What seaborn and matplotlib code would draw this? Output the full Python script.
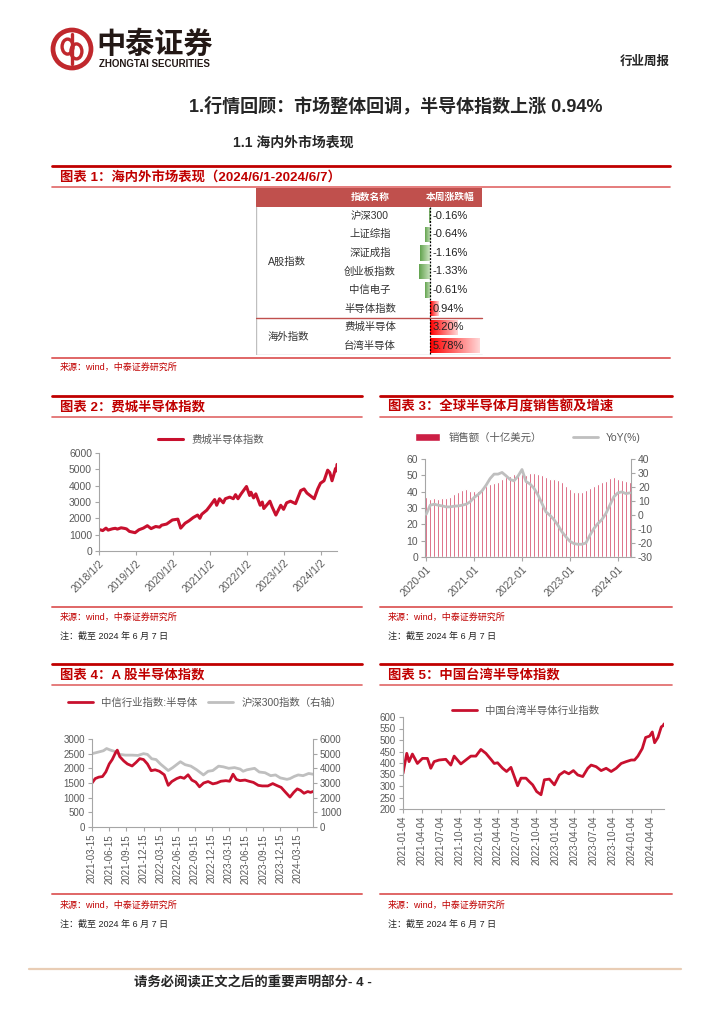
import numpy as np
import pandas as pd
import matplotlib
matplotlib.use('Agg')
import matplotlib.pyplot as plt
from matplotlib.lines import Line2D
from matplotlib.patches import Circle, Ellipse, Rectangle
import matplotlib.colors as mcolors
import seaborn as sns

# ---------------- data ----------------
# table 1: weekly change
table_names = ['沪深300', '上证综指', '深证成指', '创业板指数', '中信电子', '半导体指数', '费城半导体', '台湾半导体']
table_changes = [-0.16, -0.64, -1.16, -1.33, -0.61, 0.94, 3.20, 5.78]
table_groups = ['A股指数', 'A股指数', 'A股指数', 'A股指数', 'A股指数', 'A股指数', '海外指数', '海外指数']

# chart 2: Philadelphia semiconductor index
sox_dates = ['2018-01-02', '2018-02-08', '2018-03-12', '2018-04-02', '2018-05-15', '2018-06-12',
             '2018-07-02', '2018-08-08', '2018-09-14', '2018-10-01', '2018-10-29', '2018-12-24',
             '2019-01-31', '2019-03-15', '2019-04-24', '2019-05-31', '2019-07-15', '2019-08-23',
             '2019-09-12', '2019-10-31', '2019-12-27',
             '2020-02-19', '2020-03-18', '2020-04-30', '2020-06-08', '2020-07-20', '2020-09-01',
             '2020-09-23', '2020-10-12', '2020-11-30', '2020-12-31',
             '2021-02-16', '2021-03-08', '2021-04-05', '2021-05-12', '2021-06-01', '2021-07-15',
             '2021-08-19', '2021-09-10', '2021-10-04', '2021-11-04', '2021-12-27',
             '2022-01-27', '2022-02-09', '2022-03-07', '2022-03-29', '2022-05-11', '2022-06-01',
             '2022-06-16', '2022-08-15', '2022-09-06', '2022-10-13', '2022-11-30', '2022-12-28',
             '2023-01-27', '2023-03-06', '2023-04-25', '2023-06-15', '2023-07-18', '2023-08-15',
             '2023-09-25', '2023-10-26', '2023-11-30', '2023-12-27',
             '2024-01-31', '2024-03-07', '2024-03-28', '2024-04-19', '2024-05-10', '2024-05-23',
             '2024-05-31', '2024-06-07']
sox_values = [1320, 1250, 1400, 1280, 1360, 1390, 1340, 1420, 1380, 1350, 1200, 1120,
              1300, 1400, 1550, 1370, 1500, 1460, 1580, 1650, 1900,
              1950, 1400, 1700, 1850, 2050, 2200, 2000, 2250, 2500, 2750,
              3150, 2800, 3200, 2950, 3200, 3300, 3200, 3450, 3200, 3500, 3950,
              3400, 3600, 3250, 3500, 2800, 3000, 2600, 3050, 2700, 2200, 2800, 2550,
              2950, 3050, 2900, 3700, 3800, 3550, 3350, 3200, 3800, 4150,
              4300, 4950, 4800, 4300, 4750, 5050, 4900, 5300]
sox_ticks = ['2018-01-02', '2019-01-02', '2020-01-02', '2021-01-02', '2022-01-02', '2023-01-02', '2024-01-02']
sox_tick_labels = ['2018/1/2', '2019/1/2', '2020/1/2', '2021/1/2', '2022/1/2', '2023/1/2', '2024/1/2']

# chart 3: global semiconductor monthly sales (USD bn) and YoY (%)
sales_months = pd.date_range('2020-01-01', periods=52, freq='MS').strftime('%Y-%m').tolist()
sales = [36.9, 35.4, 36.3, 35.4, 36.1, 36.3, 36.9, 38.3, 39.8, 41.0, 41.6, 40.6,
         40.6, 40.6, 42.0, 43.4, 44.7, 45.1, 45.9, 47.7, 48.8, 49.6, 50.6, 50.8,
         50.8, 50.2, 51.2, 51.6, 50.6, 50.2, 48.8, 47.7, 47.5, 47.1, 46.1, 43.4,
         41.8, 39.8, 39.5, 39.8, 41.0, 42.4, 43.4, 44.7, 45.7, 46.7, 48.2, 48.8,
         48.0, 47.1, 46.7, 46.1]
yoy = [0.5, 7.0, 7.7, 7.0, 6.5, 5.8, 5.8, 6.3, 6.5, 7.0, 7.7, 9.4,
       12.5, 14.6, 17.3, 21.3, 26.0, 29.2, 29.2, 30.4, 28.0, 25.4, 24.4, 27.8,
       32.5, 23.9, 22.2, 19.1, 14.3, 8.2, 2.2, -0.2, -3.3, -7.3, -12.0, -15.6,
       -18.8, -20.4, -20.9, -20.9, -20.0, -14.5, -9.7, -6.1, -3.3, 1.0, 7.0, 13.0,
       15.8, 16.5, 15.3, 15.8]

# chart 4: CITIC semiconductor index vs CSI 300
semi_dates = ['2021-03-15', '2021-04-01', '2021-04-20', '2021-05-10', '2021-05-28', '2021-06-15',
              '2021-07-01', '2021-07-20', '2021-07-28', '2021-08-10', '2021-09-01', '2021-09-20',
              '2021-10-15', '2021-11-05', '2021-11-25', '2021-12-15', '2022-01-05', '2022-01-25',
              '2022-02-15', '2022-03-10', '2022-04-05', '2022-04-26', '2022-05-15', '2022-06-10',
              '2022-06-30', '2022-07-20', '2022-08-10', '2022-08-30', '2022-09-20', '2022-10-10',
              '2022-11-01', '2022-11-25', '2022-12-20', '2023-01-10', '2023-02-01', '2023-02-28',
              '2023-03-20', '2023-04-07', '2023-04-25', '2023-05-15', '2023-06-10', '2023-07-01',
              '2023-07-25', '2023-08-20', '2023-09-10', '2023-10-10', '2023-11-05', '2023-11-25',
              '2023-12-20', '2024-01-10', '2024-02-05', '2024-02-25', '2024-03-15', '2024-04-01',
              '2024-04-20', '2024-05-10', '2024-05-25', '2024-06-07']
semi_values = [1500, 1650, 1700, 1720, 1880, 2150, 2300, 2550, 2620, 2400, 2250, 2150,
               2080, 2200, 2330, 2300, 2150, 1920, 1950, 1900, 1780, 1420, 1550, 1650,
               1700, 1660, 1780, 1600, 1530, 1370, 1500, 1550, 1470, 1500, 1560, 1580,
               1560, 1800, 1620, 1580, 1600, 1560, 1520, 1420, 1400, 1400, 1480, 1420,
               1350, 1200, 1020, 1180, 1300, 1250, 1150, 1210, 1180, 1210]
hs300_dates = ['2021-03-15', '2021-04-15', '2021-05-15', '2021-06-01', '2021-06-20', '2021-07-15',
               '2021-08-10', '2021-09-10', '2021-10-15', '2021-11-15', '2021-12-15', '2022-01-05',
               '2022-01-28', '2022-02-20', '2022-03-15', '2022-04-26', '2022-05-20', '2022-06-30',
               '2022-07-25', '2022-08-25', '2022-09-25', '2022-10-31', '2022-11-25', '2022-12-20',
               '2023-01-20', '2023-02-15', '2023-03-15', '2023-04-15', '2023-05-15', '2023-05-31',
               '2023-06-20', '2023-07-31', '2023-08-25', '2023-09-25', '2023-10-25', '2023-11-20',
               '2023-12-15', '2024-01-20', '2024-02-05', '2024-02-28', '2024-03-20', '2024-04-15',
               '2024-05-15', '2024-06-07']
hs300_values = [5000, 5100, 5200, 5350, 5250, 5150, 4950, 4900, 4900, 4880, 5000, 4950,
                4650, 4600, 4300, 3850, 4050, 4450, 4250, 4150, 3900, 3550, 3800, 3850,
                4150, 4100, 4000, 4050, 3950, 3800, 3900, 4000, 3750, 3700, 3500, 3550,
                3350, 3250, 3300, 3450, 3550, 3500, 3650, 3600]
a_ticks = ['2021-03-15', '2021-06-15', '2021-09-15', '2021-12-15', '2022-03-15', '2022-06-15',
           '2022-09-15', '2022-12-15', '2023-03-15', '2023-06-15', '2023-09-15', '2023-12-15',
           '2024-03-15']

# chart 5: Taiwan semiconductor index
tw_dates = ['2021-01-04', '2021-01-22', '2021-02-02', '2021-02-18', '2021-03-14', '2021-04-07',
            '2021-05-01', '2021-05-17', '2021-06-02', '2021-06-26', '2021-07-28', '2021-08-21',
            '2021-09-06', '2021-10-08', '2021-11-01', '2021-11-25', '2021-12-19', '2022-01-12',
            '2022-02-05', '2022-03-01', '2022-03-17', '2022-04-02', '2022-04-26', '2022-05-15',
            '2022-06-05', '2022-06-21', '2022-07-07', '2022-07-23', '2022-08-16', '2022-09-01',
            '2022-09-17', '2022-10-06', '2022-10-27', '2022-11-12', '2022-12-06', '2022-12-30',
            '2023-01-23', '2023-02-16', '2023-03-09', '2023-03-31', '2023-04-21', '2023-05-15',
            '2023-06-08', '2023-06-24', '2023-07-18', '2023-08-11', '2023-09-04', '2023-09-28',
            '2023-10-22', '2023-11-15', '2023-12-09', '2024-01-02', '2024-01-18', '2024-02-03',
            '2024-02-24', '2024-03-11', '2024-03-30', '2024-04-12', '2024-04-23', '2024-05-09',
            '2024-05-25', '2024-06-05', '2024-06-07']
tw_values = [355, 442, 406, 439, 398, 420, 420, 377, 406, 413, 416, 391,
             430, 396, 413, 430, 430, 459, 442, 416, 398, 401, 377, 363,
             381, 341, 301, 334, 334, 319, 305, 276, 262, 327, 330, 305,
             348, 363, 353, 367, 348, 341, 377, 391, 384, 367, 377, 363,
             377, 398, 406, 413, 413, 430, 463, 511, 517, 535, 488, 511,
             557, 564, 570]
tw_ticks = ['2021-01-04', '2021-04-04', '2021-07-04', '2021-10-04', '2022-01-04', '2022-04-04',
            '2022-07-04', '2022-10-04', '2023-01-04', '2023-04-04', '2023-07-04', '2023-10-04',
            '2024-01-04', '2024-04-04']

# ---------------- style ----------------
sns.set_theme(style='white')
plt.rcParams['font.family'] = ['Liberation Sans', 'Noto Sans CJK SC', 'DejaVu Sans']
plt.rcParams['axes.unicode_minus'] = False

W, H = 724, 1024
TITLE_RED = '#C00000'
LIGHT_RED = '#E06666'
LINE_RED = '#C8102E'
BAR_RED = '#CC1F45'
GRAY_LINE = '#BFBFBF'
GRAY_TXT = '#595959'
SPINE = '#A6A6A6'

fig = plt.figure(figsize=(W / 100, H / 100), dpi=100)


def fig_axes(x0, y0, x1, y1):
    return fig.add_axes([x0 / W, 1 - y1 / H, (x1 - x0) / W, (y1 - y0) / H])


def hline(y, x0, x1, color, lw):
    fig.add_artist(Line2D([x0 / W, x1 / W], [1 - y / H, 1 - y / H], color=color, lw=lw,
                          transform=fig.transFigure))


def ftext(x, y, s, **kw):
    kw.setdefault('va', 'center')
    fig.text(x / W, 1 - y / H, s, **kw)


def block(x0, x1, y_top, title, y_bottom, y_src, note=True):
    hline(y_top, x0, x1, TITLE_RED, 2.0)
    ftext(x0 + 8, y_top + 11, title, color=TITLE_RED, fontsize=9.6, fontweight='bold')
    hline(y_top + 21, x0, x1, LIGHT_RED, 1.2)
    hline(y_bottom, x0, x1, LIGHT_RED, 1.4)
    ftext(x0 + 8, y_src, '来源：wind，中泰证券研究所', color=TITLE_RED, fontsize=6.5)
    if note:
        ftext(x0 + 8, y_src + 19, '注：截至 2024 年 6 月 7 日', color='#222222', fontsize=6.5)


def style_axes(ax, labelsize=7.5):
    for s in ['top', 'right']:
        ax.spines[s].set_visible(False)
    for s in ['left', 'bottom']:
        ax.spines[s].set_color(SPINE)
        ax.spines[s].set_linewidth(0.8)
    ax.tick_params(bottom=True, left=True, length=3, width=0.8, color=SPINE,
                   labelcolor=GRAY_TXT, labelsize=labelsize, pad=2)
    ax.set_xlabel('')
    ax.set_ylabel('')


# ---------------- page header ----------------
axL = fig_axes(50, 27, 94, 71)
axL.set_xlim(-1.1, 1.1)
axL.set_ylim(-1.1, 1.1)
axL.set_aspect('equal')
axL.axis('off')
axL.add_patch(Circle((0, 0), 0.95, fill=False, ec='#C0282D', lw=3.4))
axL.add_patch(Ellipse((-0.22, 0.12), 0.55, 0.75, fill=False, ec='#C0282D', lw=2.4))
axL.add_patch(Ellipse((0.22, -0.12), 0.55, 0.75, fill=False, ec='#C0282D', lw=2.4))
axL.plot([0, 0], [-0.75, 0.75], color='#C0282D', lw=2.4)

ftext(96, 45, '中泰证券', fontsize=21, fontweight='bold', color='#231815')
ftext(99, 64, 'ZHONGTAI SECURITIES', fontsize=7, fontweight='bold', color='#231815')
ftext(670, 62, '行业周报', fontsize=9, fontweight='bold', ha='right')
ftext(396, 106, '1.行情回顾：市场整体回调，半导体指数上涨 0.94%', fontsize=13, fontweight='bold', ha='center')
ftext(233, 143, '1.1 海内外市场表现', fontsize=10, fontweight='bold')

# ---------------- table block ----------------
block(52, 670, 166, '图表 1：海内外市场表现（2024/6/1-2024/6/7）', 358, 367, note=False)

axT = fig_axes(256, 188, 484, 355)
axT.set_xlim(256, 484)
axT.set_ylim(7.5, -1.5)
axT.axis('off')
axT.add_patch(Rectangle((256, -1.5), 226, 1.0, color='#C0504D', lw=0))
axT.text(370, -1, '指数名称', color='white', fontsize=7, fontweight='bold', ha='center', va='center')
axT.text(450, -1, '本周涨跌幅', color='white', fontsize=7, fontweight='bold', ha='center', va='center')
rows = np.arange(len(table_names))
for i, name in enumerate(table_names):
    axT.text(370, i, name, fontsize=7.5, color='#333333', ha='center', va='center')
for g in dict.fromkeys(table_groups):
    idx = [i for i, gg in enumerate(table_groups) if gg == g]
    axT.text(268, np.mean(idx), g, fontsize=7.5, color='#333333', ha='left', va='center')
axT.plot([256, 256], [-0.5, 7.5], color='#BFBFBF', lw=1)
axT.plot([256, 482], [7.5, 7.5], color='#BFBFBF', lw=1)
axT.plot([256, 482], [5.5, 5.5], color='#C0504D', lw=1)

axB = fig_axes(418, 188, 482, 355)
axB.set_xlim(-1.4, 6.05)
axB.set_ylim(7.5, -1.5)
axB.axis('off')
bars = axB.barh(rows, table_changes, height=0.82, color='none', lw=0)
for bar, v in zip(bars, table_changes):
    base = mcolors.to_rgb('#63A34F' if v < 0 else '#FF0000')
    light = mcolors.to_rgb('#CFE6C4' if v < 0 else '#FFD6D6')
    t = np.linspace(0, 1, 64)
    if v < 0:
        t = t[::-1]
    grad = np.array([[tuple(b + (l - b) * tt for b, l in zip(base, light)) for tt in t]])
    x0, w = bar.get_x(), bar.get_width()
    y0, h = bar.get_y(), bar.get_height()
    im = axB.imshow(grad, extent=[x0, x0 + w, y0 + h, y0], aspect='auto', zorder=1)
    im.set_clip_path(bar)
axB.set_xlim(-1.4, 6.05)
axB.set_ylim(7.5, -1.5)
axB.plot([0, 0], [-0.5, 7.5], color='black', lw=0.9, ls=(0, (1.5, 1.2)), zorder=3)
for i, v in enumerate(table_changes):
    axB.text(0.3, i, f'{v:.2f}%', fontsize=8, color='#222222', ha='left', va='center', zorder=4)

# ---------------- chart 2 ----------------
block(52, 362, 396, '图表 2：费城半导体指数', 607, 617)
sox = pd.DataFrame({'date': pd.to_datetime(sox_dates), 'value': sox_values})
ax2 = fig_axes(99, 453, 337, 551)
sns.lineplot(data=sox, x='date', y='value', ax=ax2, color=LINE_RED, lw=2.2, label='费城半导体指数')
ax2.set_xlim(pd.Timestamp('2018-01-02'), pd.Timestamp('2024-06-07'))
ax2.set_ylim(0, 6000)
ax2.set_yticks(range(0, 6001, 1000))
ax2.set_xticks(pd.to_datetime(sox_ticks))
ax2.set_xticklabels(sox_tick_labels, rotation=45, ha='right', rotation_mode='anchor')
style_axes(ax2)
ax2.legend(loc='center', bbox_to_anchor=(0.47, 1.14), frameon=False, fontsize=7.5,
           handlelength=2.4, labelcolor=GRAY_TXT)

# ---------------- chart 3 ----------------
block(380, 672, 396, '图表 3：全球半导体月度销售额及增速', 607, 617)
idx = np.arange(len(sales_months))
ax3 = fig_axes(425, 459, 631, 557)
sns.barplot(x=idx, y=sales, native_scale=True, color=BAR_RED, saturation=1, width=0.48,
            ax=ax3, label='销售额（十亿美元）')
ax3r = ax3.twinx()
sns.lineplot(x=idx, y=yoy, ax=ax3r, color=GRAY_LINE, lw=2, label='YoY(%)')
ax3.set_xlim(-0.3, 51.3)
ax3.set_ylim(0, 60)
ax3.set_yticks(range(0, 61, 10))
ax3r.set_ylim(-30, 40)
ax3r.set_yticks(range(-30, 41, 10))
year_pos = [i for i, m in enumerate(sales_months) if m.endswith('-01')]
ax3.set_xticks(year_pos)
ax3.set_xticklabels([sales_months[i] for i in year_pos], rotation=45, ha='right', rotation_mode='anchor')
style_axes(ax3)
for s in ['top', 'left', 'bottom']:
    ax3r.spines[s].set_visible(False)
ax3r.spines['right'].set_color(SPINE)
ax3r.spines['right'].set_linewidth(0.8)
ax3r.tick_params(right=True, length=3, width=0.8, color=SPINE, labelcolor=GRAY_TXT, labelsize=7.5, pad=2)
ax3r.set_ylabel('')
h1, l1 = ax3.get_legend_handles_labels()
h2, l2 = ax3r.get_legend_handles_labels()
if ax3r.get_legend():
    ax3r.get_legend().remove()
if ax3.get_legend():
    ax3.get_legend().remove()
ax3r.legend(h1 + h2, l1 + l2, loc='center', bbox_to_anchor=(0.5, 1.22), ncol=2, frameon=False,
            fontsize=7.5, handlelength=2.4, columnspacing=3, labelcolor=GRAY_TXT)

# ---------------- chart 4 ----------------
block(52, 362, 664, '图表 4：A 股半导体指数', 894, 905)
semi = pd.DataFrame({'date': pd.to_datetime(semi_dates), 'value': semi_values})
hs = pd.DataFrame({'date': pd.to_datetime(hs300_dates), 'value': hs300_values})
ax4 = fig_axes(92, 739, 313, 827)
ax4r = ax4.twinx()
sns.lineplot(data=hs, x='date', y='value', ax=ax4r, color=GRAY_LINE, lw=2, label='沪深300指数（右轴）')
sns.lineplot(data=semi, x='date', y='value', ax=ax4, color=LINE_RED, lw=2, label='中信行业指数:半导体')
ax4.set_zorder(ax4r.get_zorder() + 1)
ax4.patch.set_visible(False)
ax4.set_xlim(pd.Timestamp('2021-03-15'), pd.Timestamp('2024-06-07'))
ax4.set_ylim(0, 3000)
ax4.set_yticks(range(0, 3001, 500))
ax4r.set_ylim(0, 6000)
ax4r.set_yticks(range(0, 6001, 1000))
ax4.set_xticks(pd.to_datetime(a_ticks))
ax4.set_xticklabels(a_ticks, rotation=90)
style_axes(ax4, labelsize=7)
for s in ['top', 'left', 'bottom']:
    ax4r.spines[s].set_visible(False)
ax4r.spines['right'].set_color(SPINE)
ax4r.spines['right'].set_linewidth(0.8)
ax4r.tick_params(right=True, length=3, width=0.8, color=SPINE, labelcolor=GRAY_TXT, labelsize=7, pad=2)
ax4r.set_ylabel('')
h1, l1 = ax4.get_legend_handles_labels()
h2, l2 = ax4r.get_legend_handles_labels()
if ax4r.get_legend():
    ax4r.get_legend().remove()
ax4.legend(h1 + h2, l1 + l2, loc='center', bbox_to_anchor=(0.51, 1.41), ncol=2, frameon=False,
           fontsize=7.5, handlelength=2.4, columnspacing=1.0, labelcolor=GRAY_TXT)

# ---------------- chart 5 ----------------
block(380, 672, 664, '图表 5：中国台湾半导体指数', 894, 905)
tw = pd.DataFrame({'date': pd.to_datetime(tw_dates), 'value': tw_values})
ax5 = fig_axes(403, 717, 664, 809)
sns.lineplot(data=tw, x='date', y='value', ax=ax5, color=LINE_RED, lw=2, label='中国台湾半导体行业指数')
ax5.set_xlim(pd.Timestamp('2021-01-04'), pd.Timestamp('2024-06-07'))
ax5.set_ylim(200, 600)
ax5.set_yticks(range(200, 601, 50))
ax5.set_xticks(pd.to_datetime(tw_ticks))
ax5.set_xticklabels(tw_ticks, rotation=90)
style_axes(ax5, labelsize=7)
ax5.legend(loc='center', bbox_to_anchor=(0.47, 1.065), frameon=False, fontsize=7.5,
           handlelength=2.4, labelcolor=GRAY_TXT)

# ---------------- footer ----------------
hline(969, 29, 681, '#E9CDB5', 1.6)
ftext(253, 983, '请务必阅读正文之后的重要声明部分- 4 -', fontsize=9.6, fontweight='bold', ha='center')

fig.savefig('out.png', dpi=100)
